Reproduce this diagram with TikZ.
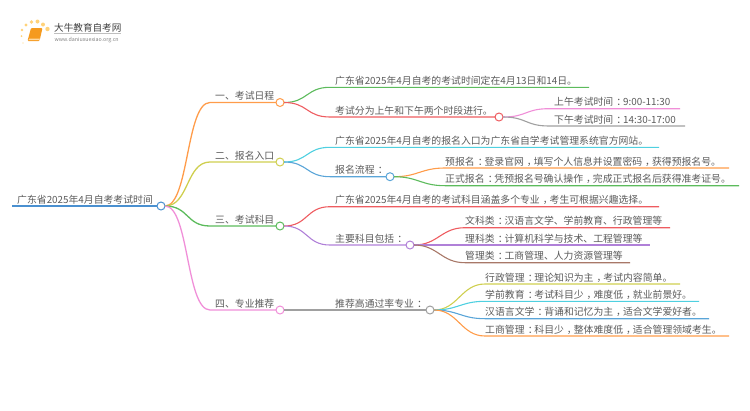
\documentclass[tikz,border=0pt]{standalone}
\usepackage{fontspec}
\setmainfont{Noto Sans CJK SC}
\definecolor{cBlue}{HTML}{4A90D0}
\definecolor{cOrange}{HTML}{FF9C4A}
\definecolor{cOlive}{HTML}{CFCF50}
\definecolor{cGreen}{HTML}{5CBB5C}
\definecolor{cPink}{HTML}{F08FD8}
\definecolor{cRed}{HTML}{EE5C60}
\definecolor{cCyan}{HTML}{4FD0E0}
\definecolor{cSteel}{HTML}{5AA5D8}
\definecolor{cPurple}{HTML}{B080D8}
\definecolor{cBrown}{HTML}{A87868}
\definecolor{cGray}{HTML}{A0A0A0}
\definecolor{cText}{HTML}{5A5A5A}
\definecolor{cLogoA}{HTML}{FFD27A}
\definecolor{cLogoB}{HTML}{F59A1E}
\definecolor{cLogoC}{HTML}{FFD9A0}
\tikzset{
  x=1pt,y=-1pt,
  lbl/.style={anchor=base west,inner sep=0pt,text=cText,font=\fontsize{9.85}{12}\selectfont},
  dot/.style={circle,draw=#1,fill=white,line width=1pt,minimum size=8pt,inner sep=0pt,outer sep=0pt},
}
% punctuation set in the middle of its square, as in the reference
\newcommand{\cln}{\kern.32em：\kern-.32em}
\newcommand{\cma}{\kern.3em，\kern-.3em}
% \brch{colour}{from node}{x where the curve ends}{end point}
\newcommand{\brch}[4]{%
  \coordinate (tmp) at (#3,0 |- #4);
  \draw[draw=#1] (#2.east) .. controls ([xshift=24pt]#2.east) and ([xshift=-24pt]tmp) .. (tmp) -- (#4);}
\begin{document}
\begin{tikzpicture}
\useasboundingbox (0,0) rectangle (750,410);
% logo
\foreach \a/\b/\r in {23/43/.7,21.5/36/1,22/30/1.3,26/25/1.6,31.5/22/1.8,37.5/21.5/2,43/24.5/2,47.5/29/2.2}
  \fill[cLogoA] (\a,\b) circle (\r);
\fill[rounded corners=1pt,fill=cLogoB] (31,28) -- (42.5,28) -- (39.5,41) -- (27.5,41) -- cycle;
\fill[cLogoC] (29,38.5) -- (40,38.5) -- (39.5,40) -- (28.5,40) -- cycle;
\node[lbl,text=black!75,font=\fontsize{9.6}{12}\selectfont] (logot) at (54,31) {大牛教育自考网};
\draw[black!25,line width=.4pt] (logot.base west)++(0,2.5) -- ++(67,0);
\node[lbl,text=black!50,font=\fontsize{5.3}{7}\selectfont] (logou) at (54.5,41) {www.daniuxuexiao.org.cn};
% labels
\node[lbl] (t0) at (17,203) {广东省2025年4月自考考试时间};
\node[lbl] (t1) at (215,99.5) {一、考试日程};
\node[lbl] (t2) at (215,159) {二、报名入口};
\node[lbl] (t3) at (215,223) {三、考试科目};
\node[lbl] (t4) at (215,307) {四、专业推荐};
\node[lbl] (t11) at (335,84.3) {广东省2025年4月自考的考试时间定在4月13日和14日。};
\node[lbl] (t12) at (335,114) {考试分为上午和下午两个时段进行。};
\node[lbl] (t121) at (554,105.7) {上午考试时间\cln 9:00-11:30};
\node[lbl] (t122) at (554,123) {下午考试时间\cln 14:30-17:00};
\node[lbl] (t21) at (335,144.3) {广东省2025年4月自考的报名入口为广东省自学考试管理系统官方网站。};
\node[lbl] (t22) at (335,173.7) {报名流程\cln};
\node[lbl] (t221) at (445,165) {预报名\cln 登录官网\cma 填写个人信息并设置密码\cma 获得预报名号。};
\node[lbl] (t222) at (445,182.7) {正式报名\cln 凭预报名号确认操作\cma 完成正式报名后获得准考证号。};
\node[lbl] (t31) at (335,203.7) {广东省2025年4月自考的考试科目涵盖多个专业\cma 考生可根据兴趣选择。};
\node[lbl] (t32) at (335,242) {主要科目包括\cln};
\node[lbl] (t321) at (465,224.7) {文科类\cln 汉语言文学、学前教育、行政管理等};
\node[lbl] (t322) at (465,242) {理科类\cln 计算机科学与技术、工程管理等};
\node[lbl] (t323) at (465,259.7) {管理类\cln 工商管理、人力资源管理等};
\node[lbl] (t41) at (335,307) {推荐高通过率专业\cln};
\node[lbl] (t411) at (485,281) {行政管理\cln 理论知识为主\cma 考试内容简单。};
\node[lbl] (t412) at (485,298.3) {学前教育\cln 考试科目少\cma 难度低\cma 就业前景好。};
\node[lbl] (t413) at (485,315.7) {汉语言文学\cln 背诵和记忆为主\cma 适合文学爱好者。};
\node[lbl] (t414) at (485,333) {工商管理\cln 科目少\cma 整体难度低\cma 适合管理领域考生。};
% dots
\coordinate (rs) at (12,206);
\node[dot=cBlue] (r) at (161,206) {};
\node[dot=cOrange] (a) at (280,102.5) {};
\node[dot=cOlive] (b) at (280,162) {};
\node[dot=cGreen] (c) at (280,226) {};
\node[dot=cPink] (d) at (280,310) {};
\node[dot=cRed] (a2) at (499,117) {};
\node[dot=cSteel] (b2) at (390,176.7) {};
\node[dot=cPurple] (c2) at (410,245) {};
\node[dot=cGray] (d2) at (430,310) {};
% free ends
\foreach \n/\x/\y in {e11/589/87.3,e121/680/108.7,e122/685/126,e21/659/147.3,e221/729/168,e222/739/185.7,
  e31/659/206.7,e321/670/227.7,e322/650/245,e323/630/262.7,e411/680/284,e412/699/301.3,e413/709/318.7,e414/729/336}
  \coordinate (\n) at (\x,\y);
% connectors
\draw[draw=cBlue,line width=1.6pt] (rs) -- (r.west);
\begin{scope}[line width=1.3pt]
\brch{cOrange}{r}{210}{a.west}
\brch{cOlive}{r}{210}{b.west}
\brch{cGreen}{r}{210}{c.west}
\brch{cPink}{r}{210}{d.west}
\end{scope}
\begin{scope}[line width=1.1pt]
\brch{cGreen}{a}{330}{e11}
\brch{cRed}{a}{330}{a2.west}
\brch{cPink}{a2}{549}{e121}
\brch{cGray}{a2}{549}{e122}
\brch{cCyan}{b}{330}{e21}
\brch{cSteel}{b}{330}{b2.west}
\brch{cOrange}{b2}{445}{e221}
\brch{cGreen}{b2}{445}{e222}
\brch{cRed}{c}{330}{e31}
\brch{cPurple}{c}{330}{c2.west}
\brch{cRed}{c2}{465}{e321}
\brch{cPurple}{c2}{465}{e322}
\brch{cBrown}{c2}{465}{e323}
\brch{cGray}{d}{330}{d2.west}
\brch{cOlive}{d2}{485}{e411}
\brch{cCyan}{d2}{485}{e412}
\brch{cSteel}{d2}{485}{e413}
\brch{cOrange}{d2}{485}{e414}
\end{scope}
\end{tikzpicture}
\end{document}
